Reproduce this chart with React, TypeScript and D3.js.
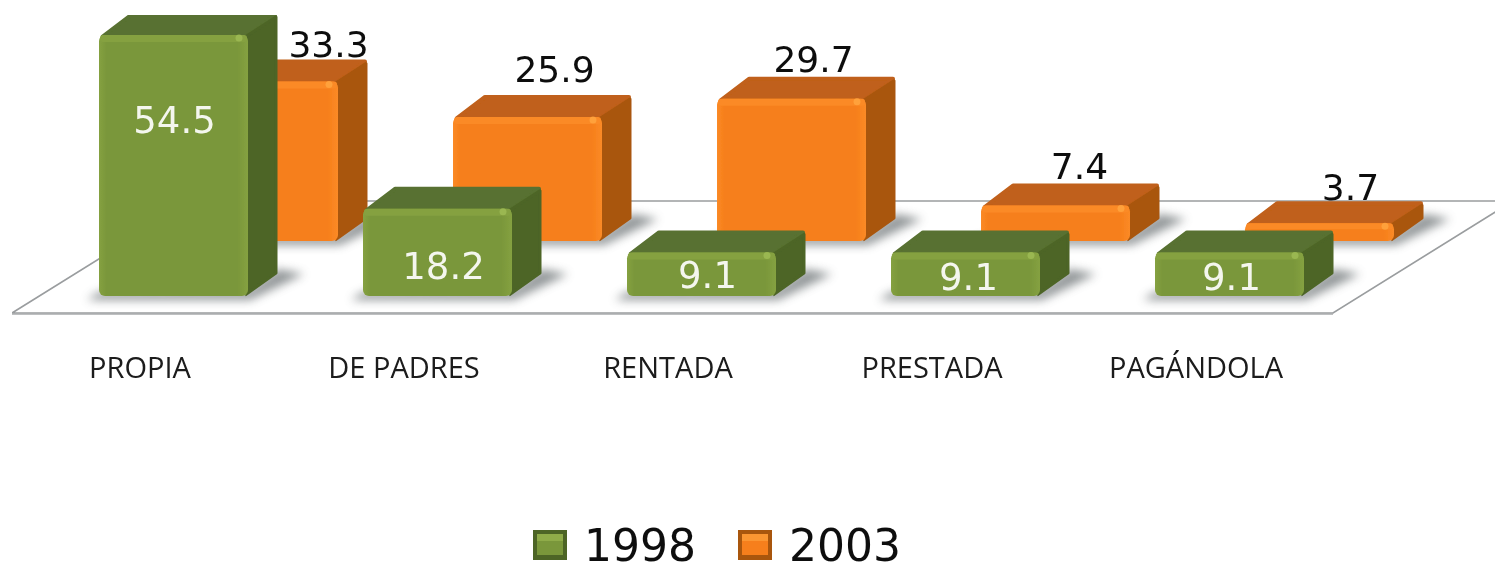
import React from "react";
import * as d3 from "d3";

const categories = ["PROPIA", "DE PADRES", "RENTADA", "PRESTADA", "PAGÁNDOLA"];
const values1998 = [54.5, 18.2, 9.1, 9.1, 9.1];
const values2003 = [33.3, 25.9, 29.7, 7.4, 3.7];
const legendYears = ["1998", "2003"];

// layout only
const W = 1495, H = 563;
const BAR_W = 149, DX = 30, DY = 20;
const GREEN_BASE = 296, ORANGE_BASE = 241, ORANGE_SHIFT = 90;
const orangeLabelNudge = [65, 27, 22, 24, 31];
const orangeLabelLift = [25, 35, 27, 27, 23];
const greenLabelPos = [
  { dx: 1, y: 133 }, { dx: 6, y: 279 }, { dx: 6, y: 288 }, { dx: 3, y: 290 }, { dx: 2, y: 290 },
];

const x = d3.scalePoint<string>().domain(categories).range([99, 1155]);
const h = d3.scaleLinear().domain([0, 54.5]).range([0, 261]);
const numFmt = d3.format(".1f");

const palette = {
  green: { id: "g", front: "#7a973a", light: "#85a141", top: "#587130", side: "#4d6527", spot: "#9dbb55" },
  orange: { id: "o", front: "#f67f1b", light: "#fb8a26", top: "#c0601a", side: "#a9570f", spot: "#ffa53f" },
};
type Pal = typeof palette.green;

function Bar({ left, base, height, pal }: { left: number; base: number; height: number; pal: Pal }) {
  const right = left + BAR_W, top = base - height;
  const line = d3.line();
  const topFace = line([[left + 3, top + 2], [left + DX + 2, top - DY], [right + DX - 3, top - DY], [right - 2, top + 2]])!;
  const sideFace = line([[right - 3, top + 2], [right + DX - 2, top - DY + 2], [right + DX - 2, base - DY - 3], [right - 3, base - 1]])!;
  const shadow = line([[left - 12, base + 4], [right + 2, base + 4], [right + DX + 26, base - DY - 2], [right + DX, base - DY - 7], [right, base - 6], [left, base - 4]])!;
  return (
    <g>
      <path d={shadow} fill="#6f7678" opacity={0.75} filter="url(#shadowBlur)" />
      <path d={topFace} fill={pal.top} stroke={pal.top} strokeWidth={4} strokeLinejoin="round" />
      <path d={sideFace} fill={pal.side} stroke={pal.side} strokeWidth={3} strokeLinejoin="round" />
      <rect x={left} y={top} width={BAR_W} height={height} rx={6} fill={`url(#front-${pal.id})`} />
      <rect x={left + 1} y={top} width={BAR_W - 2} height={Math.min(7, height / 3)} rx={3} fill={pal.light} />
      <circle cx={right - 9} cy={top + 3} r={3.5} fill={pal.spot} opacity={0.85} />
    </g>
  );
}

function Swatch({ x: sx, pal }: { x: number; pal: Pal }) {
  return (
    <g>
      <rect x={sx} y={530} width={34} height={30} fill={pal.side} />
      <rect x={sx + 4} y={534} width={26} height={21} fill={pal.front} />
      <rect x={sx + 4} y={534} width={26} height={7} fill={pal.spot} opacity={0.6} />
    </g>
  );
}

const labelFont = "'DejaVu Sans', sans-serif";

export default function App() {
  return (
    <svg
      width={W}
      height={H}
      viewBox={`0 0 ${W} ${H}`}
      style={{ position: "absolute", left: 0, top: 0, background: "#fff", display: "block" }}
    >
      <defs>
        <filter id="shadowBlur" x="-30%" y="-100%" width="160%" height="300%">
          <feGaussianBlur stdDeviation="5" />
        </filter>
        <filter id="soft" x="0" y="0" width="100%" height="100%">
          <feGaussianBlur stdDeviation="0.7" />
        </filter>
        {[palette.green, palette.orange].map((p) => (
          <linearGradient key={p.id} id={`front-${p.id}`} x1="0" x2="1" y1="0" y2="0">
            <stop offset="0" stopColor={p.light} />
            <stop offset="0.05" stopColor={p.front} />
            <stop offset="0.93" stopColor={p.front} />
            <stop offset="1" stopColor={p.light} />
          </linearGradient>
        ))}
      </defs>
      <g filter="url(#soft)">
        {/* floor */}
        <path
          d={d3.line()([[12, 313], [1333, 313], [1513, 201], [192, 201], [12, 313]])!}
          fill="#fff"
          stroke="#9a9d9f"
          strokeWidth={1.6}
        />
        <line x1={12} x2={1333} y1={314} y2={314} stroke="#a8abad" strokeWidth={1.5} />

        {values2003.map((v, i) => (
          <Bar key={i} left={x(categories[i])! + ORANGE_SHIFT} base={ORANGE_BASE} height={h(v)} pal={palette.orange} />
        ))}
        {values1998.map((v, i) => (
          <Bar key={i} left={x(categories[i])!} base={GREEN_BASE} height={h(v)} pal={palette.green} />
        ))}

        {values2003.map((v, i) => (
          <text
            key={i}
            x={x(categories[i])! + ORANGE_SHIFT + BAR_W / 2 + orangeLabelNudge[i]}
            y={ORANGE_BASE - h(v) - orangeLabelLift[i]}
            textAnchor="middle"
            fontFamily={labelFont}
            fontSize={36}
            fill="#111"
          >
            {numFmt(v)}
          </text>
        ))}
        {values1998.map((v, i) => (
          <text
            key={i}
            x={x(categories[i])! + BAR_W / 2 + greenLabelPos[i].dx}
            y={greenLabelPos[i].y}
            textAnchor="middle"
            fontFamily={labelFont}
            fontSize={37}
            fill="#f4f6ee"
          >
            {numFmt(v)}
          </text>
        ))}

        {categories.map((c) => (
          <text
            key={c}
            x={x(c)! + 41}
            y={378}
            textAnchor="middle"
            fontFamily="'Open Sans', sans-serif"
            fontWeight={500}
            fontSize={29}
            fill="#1a1a1a"
          >
            {c}
          </text>
        ))}

        <Swatch x={533} pal={palette.green} />
        <text x={584} y={561} fontFamily={labelFont} fontSize={44} fill="#111">{legendYears[0]}</text>
        <Swatch x={738} pal={palette.orange} />
        <text x={789} y={561} fontFamily={labelFont} fontSize={44} fill="#111">{legendYears[1]}</text>
      </g>
    </svg>
  );
}
